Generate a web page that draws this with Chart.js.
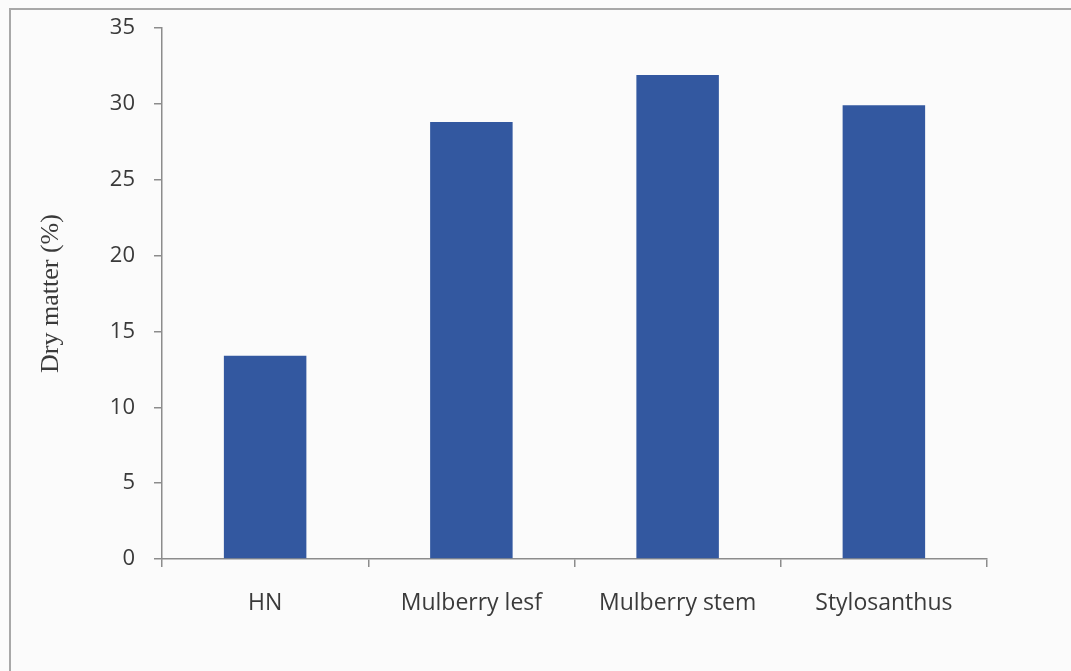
<!DOCTYPE html>
<html>
<head>
<meta charset="utf-8">
<script src="https://cdn.jsdelivr.net/npm/chart.js@4/dist/chart.umd.min.js"></script>
<style>
  html, body { margin: 0; padding: 0; background: #fbfbfb; }
  #wrap { position: relative; width: 1071px; height: 671px; }
  #frame {
    position: absolute; left: 9px; top: 8px; right: 0; bottom: 0;
    border-top: 2px solid #a8a8a8; border-left: 2px solid #a8a8a8;
    pointer-events: none;
  }
  canvas { position: absolute; left: 0; top: 0; }
</style>
</head>
<body>
<div id="wrap">
  <canvas id="c" width="1071" height="671"></canvas>
  <div id="frame"></div>
</div>
<script>
// Dry matter content by forage type
const categories = ['HN', 'Mulberry lesf', 'Mulberry stem', 'Stylosanthus'];
const dryMatter = [13.4, 28.8, 31.9, 29.9];
const yTicks = [0, 5, 10, 15, 20, 25, 30, 35];

const axisGray = '#8c8c8c';
const sans = "'Open Sans', 'Liberation Sans', sans-serif";

new Chart(document.getElementById('c'), {
  type: 'bar',
  data: {
    labels: categories,
    datasets: [{
      data: dryMatter,
      backgroundColor: '#3358a0',
      borderWidth: 0,
      barPercentage: 0.4,
      categoryPercentage: 1.0
    }]
  },
  options: {
    responsive: false,
    animation: false,
    layout: { padding: { top: 28, right: 84, bottom: 0, left: 0 } },
    plugins: { legend: { display: false }, tooltip: { enabled: false } },
    scales: {
      x: {
        offset: true,
        grid: { offset: true, drawOnChartArea: false, drawTicks: true, tickLength: 8, color: axisGray, lineWidth: 1.5 },
        border: { display: true, color: axisGray, width: 1.5 },
        ticks: { color: '#3a3a3a', font: { family: sans, size: 23 }, padding: 23 },
        afterFit: (s) => { s.height = 112; }
      },
      y: {
        min: 0,
        max: 35,
        afterBuildTicks: (s) => { s.ticks = yTicks.map(v => ({ value: v })); },
        grid: { drawOnChartArea: false, drawTicks: true, tickLength: 8, color: axisGray, lineWidth: 1.5 },
        border: { display: true, color: axisGray, width: 1.5 },
        ticks: { color: '#3a3a3a', font: { family: sans, size: 22 }, padding: 19 },
        title: {
          display: true,
          text: 'Dry matter (%)',
          color: '#3a3a3a',
          font: { family: "'Liberation Serif', 'DejaVu Serif', serif", size: 26 },
          padding: { top: 36, bottom: 0 }
        },
        afterFit: (s) => { s.width = 162; s.paddingTop = 0; s.paddingBottom = 0; }
      }
    }
  }
});
</script>
</body>
</html>
